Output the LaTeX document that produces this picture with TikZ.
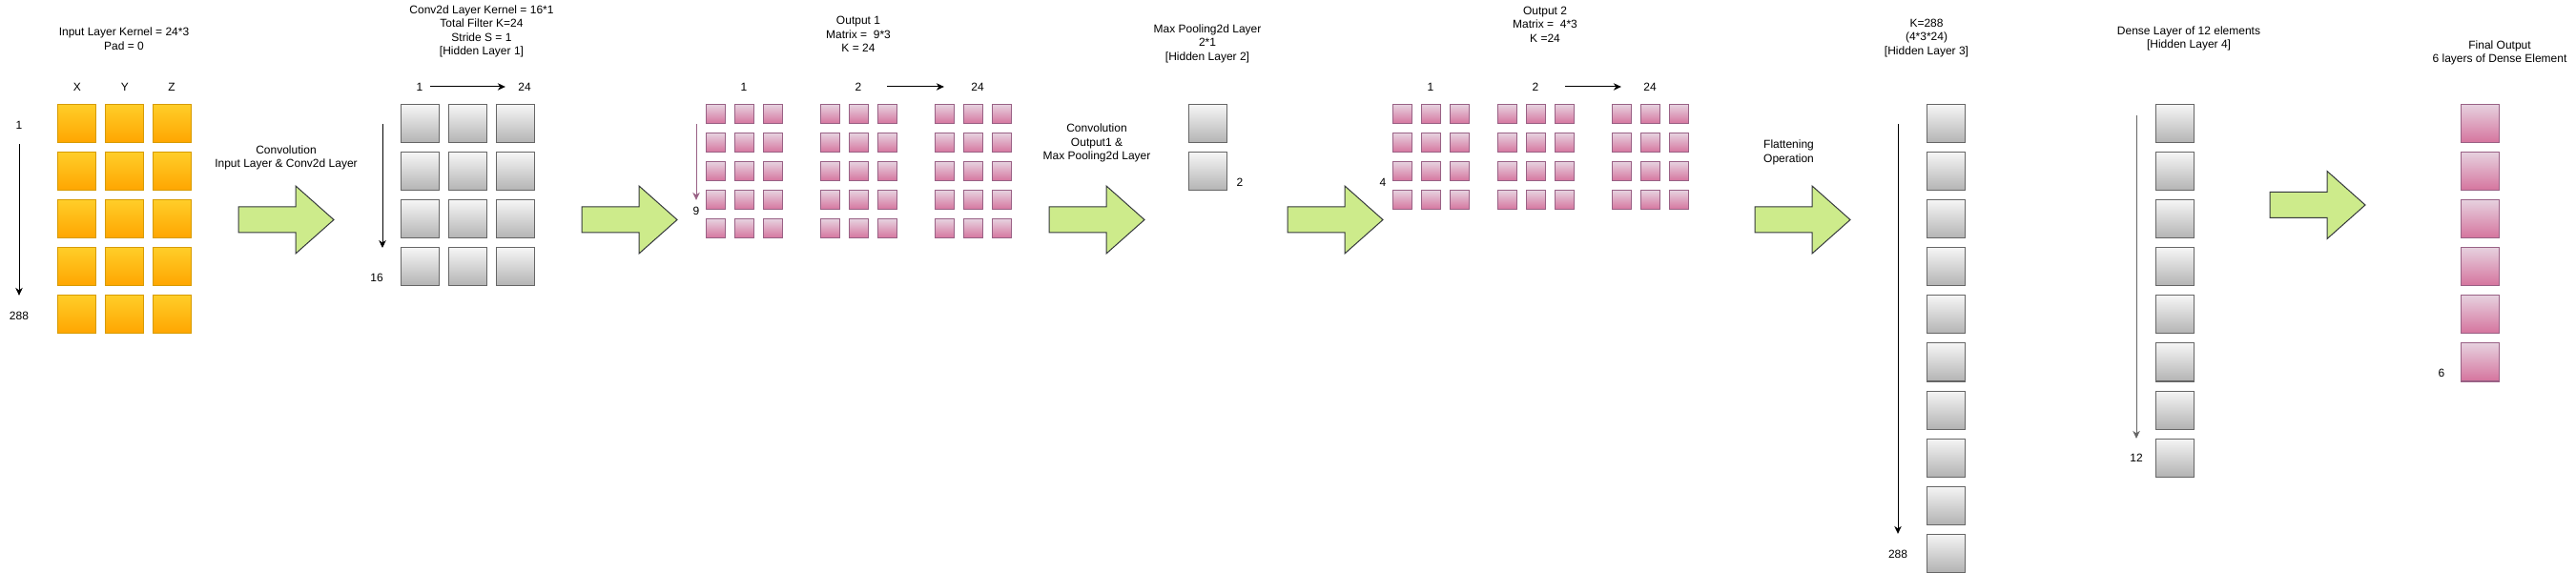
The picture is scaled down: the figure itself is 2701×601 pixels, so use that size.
\documentclass[tikz,border=0pt]{standalone}
\usepackage{fontspec}
\setmainfont{Liberation Sans}
\usepackage{tikz}
\usetikzlibrary{arrows.meta}

\definecolor{orangetop}{HTML}{FFCD28}
\definecolor{orangebot}{HTML}{FFA500}
\definecolor{orangeline}{HTML}{D79B00}
\definecolor{graytop}{HTML}{F5F5F5}
\definecolor{graybot}{HTML}{B3B3B3}
\definecolor{grayline}{HTML}{666666}
\definecolor{pinktop}{HTML}{E6D0DE}
\definecolor{pinkbot}{HTML}{D5739D}
\definecolor{pinkline}{HTML}{996185}
\definecolor{arrowfill}{HTML}{CDEB8B}
\definecolor{arrowline}{HTML}{36393D}

\begin{document}
\begin{tikzpicture}[x=1pt, y=-1pt,
    every node/.style={font=\fontsize{12}{14.5}\selectfont},
    lbl/.style={inner sep=0pt},
    title/.style={align=center, inner sep=0pt},
    orangebox/.style={draw=orangeline, line width=1pt, top color=orangetop,
      bottom color=orangebot, minimum size=40pt, inner sep=0pt},
    graybox/.style={draw=grayline, line width=1pt, top color=graytop,
      bottom color=graybot, minimum size=40pt, inner sep=0pt},
    pinkbox/.style={draw=pinkline, line width=1pt, top color=pinktop,
      bottom color=pinkbot, minimum size=40pt, inner sep=0pt},
    dim/.style={-{Stealth[length=8pt, width=7.5pt, inset=2.5pt]}, line width=1pt},
    bigarrow/.style={draw=arrowline, fill=arrowfill, line width=1pt}]

    \fill[white] (0, 0) rectangle (2701, 601);
    \useasboundingbox (0, 0) rectangle (2701, 601);

    % Input layer
    \node[title] (intitle) at (130, 40.5) {Input Layer Kernel = 24*3\\Pad = 0};
    \node[lbl] (inX) at (81, 91) {X};
    \node[lbl] (inY) at (131, 91) {Y};
    \node[lbl] (inZ) at (180, 91) {Z};
    \foreach \c/\x in {1/80, 2/130, 3/180} {
      \foreach \r in {1, ..., 5} {
        \node[orangebox] (in-\r-\c) at (\x, 80 + 50*\r) {};
      }
    }
    \node[lbl] (in1) at (20, 131) {1};
    \node[lbl] (in288) at (20, 331) {288};
    \draw[dim, shorten <=15.7pt, shorten >=16.7pt] (in1) -- (in288);

    % Convolution between input layer and conv2d layer
    \node[title] (convA) at (300, 165.5) {Convolution\\Input Layer \& Conv2d Layer};

    % Conv2d layer (hidden layer 1)
    \node[title] (cvtitle) at (505, 33)
      {Conv2d Layer Kernel = 16*1\\Total Filter K=24\\Stride S = 1\\{}[Hidden Layer 1]};
    \foreach \c/\x in {1/440, 2/490, 3/540} {
      \foreach \r in {1, ..., 4} {
        \node[graybox] (cv-\r-\c) at (\x, 80 + 50*\r) {};
      }
    }
    \node[lbl] (cv1) at (440, 91) {1};
    \node[lbl] (cv24) at (550, 91) {24};
    \node[lbl] (cv16) at (395, 291) {16};
    \coordinate (cvtop) at (401, 130);
    \coordinate (cvbot) at (401, 260);
    \draw[dim, shorten <=7.7pt, shorten >=13.3pt] (cv1) -- (cv24);
    \draw[dim] (cvtop) -- (cvbot);

    % Output 1
    \node[title] (oatitle) at (900, 36) {Output 1\\Matrix = \ 9*3\\K = 24};
    \foreach \g/\gx in {1/750, 2/870, 3/990} {
      \foreach \c in {0, 1, 2} {
        \foreach \r in {1, ..., 5} {
          \node[pinkbox, minimum size=20pt] (oa-\g-\r-\c) at (\gx + 30*\c, 90 + 30*\r) {};
        }
      }
    }
    \node[lbl] (oa1) at (780, 91) {1};
    \node[lbl] (oa2) at (900, 91) {2};
    \node[lbl] (oa24) at (1025, 91) {24};
    \node[lbl] (oa9) at (730, 221) {9};
    \coordinate (oatop) at (730, 130);
    \draw[dim, shorten <=26.7pt, shorten >=28.3pt] (oa2) -- (oa24);
    \draw[dim, draw=pinkline, shorten >=6.7pt] (oatop) -- (oa9);

    % Convolution between output 1 and max pooling layer
    \node[title] (convB) at (1150, 150) {Convolution\\Output1 \&\\Max Pooling2d Layer};

    % Max pooling layer (hidden layer 2)
    \node[title] (mptitle) at (1266, 45.5) {Max Pooling2d Layer\\2*1\\{}[Hidden Layer 2]};
    \foreach \r in {1, 2} {
      \node[graybox] (mp-\r) at (1266, 80 + 50*\r) {};
    }
    \node[lbl] (mp2) at (1300, 191) {2};

    % Output 2
    \node[title] (obtitle) at (1620, 25.5) {Output 2\\Matrix = \ 4*3\\K =24};
    \foreach \g/\gx in {1/1470, 2/1580, 3/1700} {
      \foreach \c in {0, 1, 2} {
        \foreach \r in {1, ..., 4} {
          \node[pinkbox, minimum size=20pt] (ob-\g-\r-\c) at (\gx + 30*\c, 90 + 30*\r) {};
        }
      }
    }
    \node[lbl] (ob1) at (1500, 91) {1};
    \node[lbl] (ob2) at (1610, 91) {2};
    \node[lbl] (ob24) at (1730, 91) {24};
    \node[lbl] (ob4) at (1450, 191) {4};
    \draw[dim, shorten <=27.7pt, shorten >=23.3pt] (ob2) -- (ob24);

    % Flattening
    \node[title, align=left, anchor=west] (flop) at (1849, 160) {Flattening\\Operation};
    \node[title] (fltitle) at (2020, 40) {K=288\\(4*3*24)\\{}[Hidden Layer 3]};
    \foreach \r in {1, ..., 10} {
      \node[graybox] (fl-\r) at (2040, 80 + 50*\r) {};
    }
    \node[lbl] (fl288) at (1990, 581) {288};
    \coordinate (fltop) at (1990, 130);
    \draw[dim, shorten >=16.7pt] (fltop) -- (fl288);

    % Dense layer (hidden layer 4)
    \node[title] (dntitle) at (2295, 40.5) {Dense Layer of 12 elements\\{}[Hidden Layer 4]};
    \foreach \r in {1, ..., 8} {
      \node[graybox] (dn-\r) at (2280, 80 + 50*\r) {};
    }
    \node[lbl] (dn12) at (2240, 480) {12};
    \coordinate (dntop) at (2240, 121);
    \draw[dim, draw=grayline, shorten >=15.7pt] (dntop) -- (dn12);

    % Final output
    \node[title] (fotitle) at (2621, 55.5) {Final Output\\6 layers of Dense Element};
    \foreach \r in {1, ..., 6} {
      \node[pinkbox] (fo-\r) at (2600, 80 + 50*\r) {};
    }
    \node[lbl] (fo6) at (2560, 391) {6};

    % Block arrows between the layers
    \foreach \ax/\ay in {250/230.5, 610/230.5, 1100/230.5, 1350/230.5, 1840/230.5, 2380/215} {
      \draw[bigarrow] (\ax, \ay - 13.5) -- (\ax + 60, \ay - 13.5) -- (\ax + 60, \ay - 35.5)
        -- (\ax + 100, \ay) -- (\ax + 60, \ay + 35.5) -- (\ax + 60, \ay + 13.5)
        -- (\ax, \ay + 13.5) -- cycle;
    }
\end{tikzpicture}
\end{document}
